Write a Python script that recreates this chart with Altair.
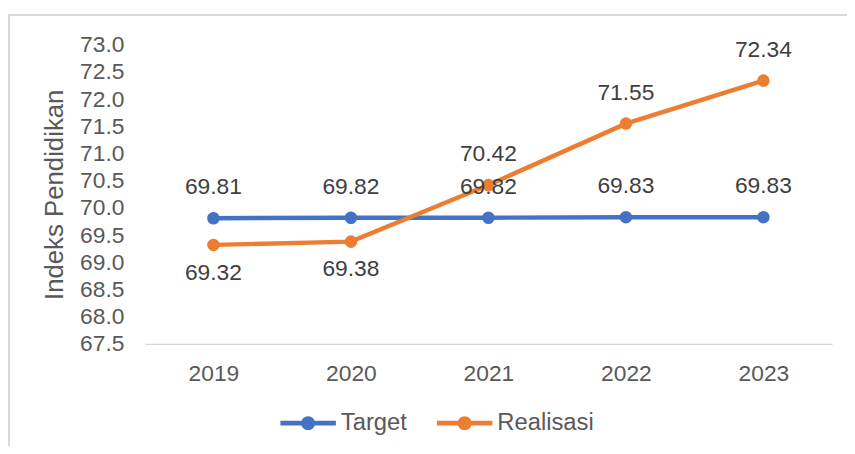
import altair as alt
import pandas as pd

years = ["2019", "2020", "2021", "2022", "2023"]
target = [69.81, 69.82, 69.82, 69.83, 69.83]
realisasi = [69.32, 69.38, 70.42, 71.55, 72.34]
series_names = ["Target", "Realisasi"]
series_colors = ["#4472C4", "#ED7D31"]
y_ticks = [67.5, 68.0, 68.5, 69.0, 69.5, 70.0, 70.5, 71.0, 71.5, 72.0, 72.5, 73.0]

rows = []
for i, y in enumerate(years):
    rows.append({"year": y, "series": "Target", "value": target[i], "pos": "above"})
    rows.append({"year": y, "series": "Realisasi", "value": realisasi[i],
                 "pos": "below" if realisasi[i] < target[i] else "above"})
df = pd.DataFrame(rows)

FONT = "Liberation Sans"
FS = 23
W, H = 694, 302
color_scale = alt.Scale(domain=series_names, range=series_colors)

legend = alt.Legend(
    title=None,
    orient="none",
    legendX=137,
    legendY=354,
    direction="horizontal",
    symbolType="M-1,-0.085 L1,-0.085 L1,0.085 L-1,0.085 Z M0.25,0 A0.25,0.25 0 1,1 -0.25,0 A0.25,0.25 0 1,1 0.25,0 Z",
    symbolSize=3136,
    symbolStrokeWidth=0,
    symbolOpacity=1,
    labelOffset=5,
    columnPadding=30,
    padding=0,
    labelFont=FONT,
    labelFontSize=24,
    labelColor="#595959",
)
color_leg = alt.Color("series:N", scale=color_scale, legend=legend)

x = alt.X("year:O", title=None,
          scale=alt.Scale(type="point", padding=0.5),
          axis=alt.Axis(labelAngle=0, ticks=False, domainColor="#D9D9D9",
                        domainWidth=1.5, labelPadding=19, labelFont=FONT,
                        labelFontSize=FS, labelColor="#595959", grid=False))
y = alt.Y("value:Q", title="Indeks Pendidikan",
          scale=alt.Scale(domain=[67.5, 73.0], zero=False, nice=False),
          axis=alt.Axis(values=y_ticks, format=".1f", domain=False, ticks=False,
                        grid=False, labelPadding=21, labelFont=FONT,
                        labelFontSize=FS, labelColor="#595959",
                        titleFont=FONT, titleFontSize=26, titleFontWeight="normal",
                        titleColor="#595959", titleX=-91, titleY=H / 2,
                        titleAngle=270, titleAlign="center", titleBaseline="middle"))

base = alt.Chart(df)

border = alt.Chart(df).mark_rect(fill="white", fillOpacity=0, stroke="#D9D9D9",
                                 strokeWidth=1.5).encode(
    x=alt.value(-137.5), y=alt.value(-30), x2=alt.value(900), y2=alt.value(600))

layers = [border]
for s, c in zip(series_names, series_colors):
    sub = base.transform_filter(alt.datum.series == s)
    layers.append(sub.mark_line(strokeWidth=4.5, color=c).encode(x=x, y=y))
    layers.append(sub.mark_point(filled=True, size=160, opacity=1).encode(x=x, y=y, color=color_leg))

above = base.transform_filter(alt.datum.pos == "above").mark_text(
    font=FONT, fontSize=FS, color="#404040", baseline="middle", dy=-31
).encode(x=x, y=y, text=alt.Text("value:Q", format=".2f"))
below = base.transform_filter(alt.datum.pos == "below").mark_text(
    font=FONT, fontSize=FS, color="#404040", baseline="middle", dy=28
).encode(x=x, y=y, text=alt.Text("value:Q", format=".2f"))
layers += [above, below]

chart = alt.layer(*layers).properties(
    width=W, height=H,
    padding={"left": 138, "top": 35, "right": 15, "bottom": 101},
    autosize="none",
    background="white",
).configure_view(stroke=None)

chart.save("out.html", embed_options={"renderer": "svg", "actions": False})
